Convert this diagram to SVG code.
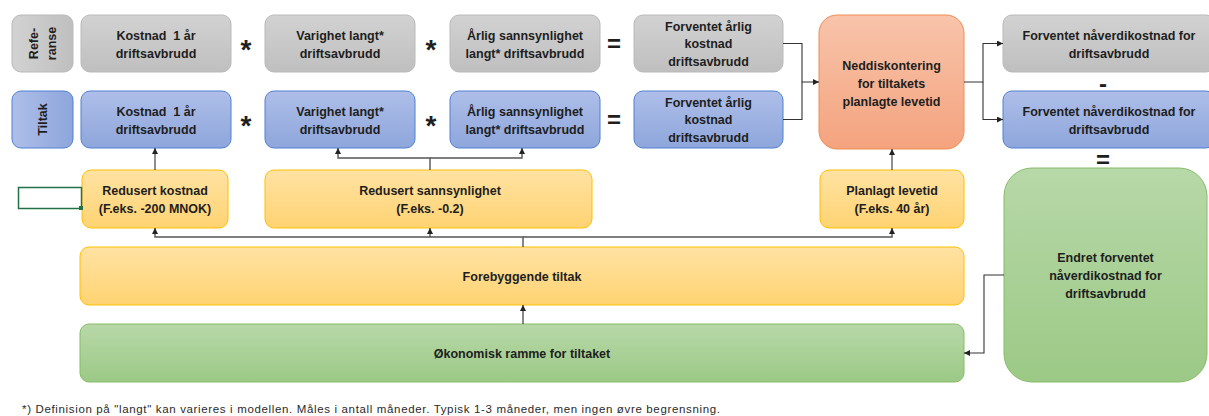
<svg xmlns="http://www.w3.org/2000/svg" width="1209" height="416" viewBox="0 0 1209 416">
<defs>
<linearGradient id="gGray" x1="0" y1="0" x2="0" y2="1"><stop offset="0" stop-color="#d2d2d2"/><stop offset="1" stop-color="#bfbfbf"/></linearGradient>
<linearGradient id="gGrayH" x1="0" y1="0" x2="1" y2="0"><stop offset="0" stop-color="#d2d2d2"/><stop offset="1" stop-color="#bfbfbf"/></linearGradient>
<linearGradient id="gBlue" x1="0" y1="0" x2="0" y2="1"><stop offset="0" stop-color="#aebee8"/><stop offset="1" stop-color="#8ea6dc"/></linearGradient>
<linearGradient id="gBlueH" x1="0" y1="0" x2="1" y2="0"><stop offset="0" stop-color="#aebee8"/><stop offset="1" stop-color="#8ea6dc"/></linearGradient>
<linearGradient id="gOrange" x1="0" y1="0" x2="0" y2="1"><stop offset="0" stop-color="#f8c4ab"/><stop offset="1" stop-color="#f4a37e"/></linearGradient>
<linearGradient id="gYellow" x1="0" y1="0" x2="0" y2="1"><stop offset="0" stop-color="#ffe2a3"/><stop offset="1" stop-color="#ffd372"/></linearGradient>
<linearGradient id="gGreen" x1="0" y1="0" x2="0" y2="1"><stop offset="0" stop-color="#b7d8a8"/><stop offset="1" stop-color="#9cc986"/></linearGradient>
<marker id="arr" viewBox="0 0 10 10" refX="10" refY="5" markerWidth="6" markerHeight="6" markerUnits="userSpaceOnUse" orient="auto"><path d="M0,0 L10,5 L0,10 z" fill="#222"/></marker>
</defs>
<style>
.gray{fill:url(#gGray);stroke:#b9b9b9;stroke-width:1}
.grayh{fill:url(#gGrayH);stroke:#b9b9b9;stroke-width:1}
.blue{fill:url(#gBlue);stroke:#4f80d2;stroke-width:1}
.blueh{fill:url(#gBlueH);stroke:#4f80d2;stroke-width:1}
.orange{fill:url(#gOrange);stroke:#f08c50;stroke-width:1}
.yellow{fill:url(#gYellow);stroke:#ffc000;stroke-width:1}
.green{fill:url(#gGreen);stroke:#86bc66;stroke-width:1}
.t{font-family:"Liberation Sans",Arial,sans-serif;font-weight:bold;font-size:12.5px;fill:#1e1e1e;text-anchor:middle;white-space:pre}
.op{font-family:"Liberation Sans",Arial,sans-serif;font-weight:bold;font-size:28px;fill:#1e1e1e;text-anchor:middle}
.eq{font-family:"Liberation Sans",Arial,sans-serif;font-weight:bold;font-size:24px;fill:#1e1e1e;text-anchor:middle}
.c{fill:none;stroke:#333;stroke-width:1.1}
.c2{fill:none;stroke:#555;stroke-width:1.4}
.note{font-family:"Liberation Sans",Arial,sans-serif;font-size:11.5px;fill:#2a2a2a}
</style>

<g id="ref-label"><rect class="grayh" x="12" y="15" width="61" height="57" rx="9"/>
<text class="t" transform="rotate(-90 42.5 43.5)"><tspan x="42.5" y="38.5">Refe-</tspan><tspan x="42.5" y="56.5">ranse</tspan></text></g>
<g id="tiltak-label"><rect class="blueh" x="12" y="91" width="61" height="57" rx="9"/>
<text class="t" transform="rotate(-90 42.5 119.5)" x="42.5" y="124">Tiltak</text></g>

<g id="ref-kostnad"><rect class="gray" x="81" y="15" width="150" height="57" rx="9"/>
<text class="t"><tspan x="156" y="39.5">Kostnad  1 år</tspan><tspan x="156" y="57.5">driftsavbrudd</tspan></text></g>
<g id="ref-varighet"><rect class="gray" x="265" y="15" width="150" height="57" rx="9"/>
<text class="t"><tspan x="340" y="39.5">Varighet langt*</tspan><tspan x="340" y="57.5">driftsavbrudd</tspan></text></g>
<g id="ref-arlig"><rect class="gray" x="450" y="15" width="150" height="57" rx="9"/>
<text class="t"><tspan x="525" y="39.5">Årlig sannsynlighet</tspan><tspan x="525" y="57.5">langt* driftsavbrudd</tspan></text></g>
<g id="ref-forventet"><rect class="gray" x="634" y="15" width="149" height="57" rx="9"/>
<text class="t"><tspan x="708.5" y="30.5">Forventet årlig</tspan><tspan x="708.5" y="48">kostnad</tspan><tspan x="708.5" y="65.5">driftsavbrudd</tspan></text></g>
<g id="ref-naverdi"><rect class="gray" x="1003" y="15" width="212" height="57" rx="9"/>
<text class="t"><tspan x="1109" y="39.5">Forventet nåverdikostnad for</tspan><tspan x="1109" y="57.5">driftsavbrudd</tspan></text></g>

<g id="tiltak-kostnad"><rect class="blue" x="81" y="91" width="150" height="57" rx="9"/>
<text class="t"><tspan x="156" y="115.5">Kostnad  1 år</tspan><tspan x="156" y="133.5">driftsavbrudd</tspan></text></g>
<g id="tiltak-varighet"><rect class="blue" x="265" y="91" width="150" height="57" rx="9"/>
<text class="t"><tspan x="340" y="115.5">Varighet langt*</tspan><tspan x="340" y="133.5">driftsavbrudd</tspan></text></g>
<g id="tiltak-arlig"><rect class="blue" x="450" y="91" width="150" height="57" rx="9"/>
<text class="t"><tspan x="525" y="115.5">Årlig sannsynlighet</tspan><tspan x="525" y="133.5">langt* driftsavbrudd</tspan></text></g>
<g id="tiltak-forventet"><rect class="blue" x="634" y="91" width="149" height="57" rx="9"/>
<text class="t"><tspan x="708.5" y="106.5">Forventet årlig</tspan><tspan x="708.5" y="124">kostnad</tspan><tspan x="708.5" y="141.5">driftsavbrudd</tspan></text></g>
<g id="tiltak-naverdi"><rect class="blue" x="1003" y="91" width="212" height="57" rx="9"/>
<text class="t"><tspan x="1109" y="115.5">Forventet nåverdikostnad for</tspan><tspan x="1109" y="133.5">driftsavbrudd</tspan></text></g>

<g id="neddiskontering"><rect class="orange" x="819" y="15" width="145" height="134" rx="18"/>
<text class="t"><tspan x="891.5" y="69.5">Neddiskontering</tspan><tspan x="891.5" y="87.5">for tiltakets</tspan><tspan x="891.5" y="105.5">planlagte levetid</tspan></text></g>

<g id="operators">
<text class="op" x="246" y="59">*</text><text class="op" x="431" y="59">*</text>
<text class="op" x="246" y="135">*</text><text class="op" x="431" y="135">*</text>
<text class="eq" x="614" y="52">=</text><text class="eq" x="614" y="128">=</text>
<text class="eq" x="1103" y="92">-</text><text class="eq" x="1103" y="168">=</text>
</g>

<g id="redusert-kostnad"><rect class="yellow" x="82" y="170" width="146" height="58" rx="9"/>
<text class="t"><tspan x="155" y="194.5">Redusert kostnad</tspan><tspan x="155" y="212.5">(F.eks. -200 MNOK)</tspan></text></g>
<g id="redusert-sannsynlighet"><rect class="yellow" x="265" y="170" width="327" height="58" rx="9"/>
<text class="t"><tspan x="430" y="194.5">Redusert sannsynlighet</tspan><tspan x="430" y="212.5">(F.eks. -0.2)</tspan></text></g>
<g id="planlagt-levetid"><rect class="yellow" x="820" y="170" width="144" height="58" rx="9"/>
<text class="t"><tspan x="892" y="194.5">Planlagt levetid</tspan><tspan x="892" y="212.5">(F.eks. 40 år)</tspan></text></g>
<g id="cell-selection"><rect x="18.5" y="187.5" width="63" height="21" fill="none" stroke="#217346" stroke-width="1.5"/><rect x="79" y="206" width="4" height="4" fill="#217346"/></g>

<g id="forebyggende"><rect class="yellow" x="80" y="247" width="884" height="58" rx="9"/>
<text class="t" x="522" y="280.5">Forebyggende tiltak</text></g>
<g id="okonomisk"><rect class="green" x="80" y="324" width="884" height="58" rx="9"/>
<text class="t" x="522" y="357.5">Økonomisk ramme for tiltaket</text></g>
<g id="endret"><rect class="green" x="1004" y="168" width="203" height="214" rx="28"/>
<text class="t"><tspan x="1105.5" y="261.5">Endret forventet</tspan><tspan x="1105.5" y="279.5">nåverdikostnad for</tspan><tspan x="1105.5" y="297.5">driftsavbrudd</tspan></text></g>

<g id="connectors">
<path class="c" d="M783,43.5 H802 V82 H819" marker-end="url(#arr)"/>
<path class="c" d="M783,119.5 H802 V82"/>
<path class="c" d="M964,82 H983 V43.5 H1003" marker-end="url(#arr)"/>
<path class="c" d="M983,82 V119.5 H1003" marker-end="url(#arr)"/>
<path class="c" d="M155,170 V148" marker-end="url(#arr)"/>
<path class="c2" d="M430,170 V158 H338 V148" marker-end="url(#arr)"/>
<path class="c2" d="M430,158 H522 V148" marker-end="url(#arr)"/>
<path class="c" d="M892,170 V149" marker-end="url(#arr)"/>
<path class="c2" d="M523,247 V237 H155 V228" marker-end="url(#arr)"/>
<path class="c2" d="M430,237 V228" marker-end="url(#arr)"/>
<path class="c2" d="M523,237 H892 V228" marker-end="url(#arr)"/>
<path class="c2" d="M523,324 V305" marker-end="url(#arr)"/>
<path class="c" d="M1004,275 H984 V353 H964" marker-end="url(#arr)"/>
</g>

<text class="note" x="22" y="413" textLength="698" lengthAdjust="spacing">*) Definision på "langt" kan varieres i modellen. Måles i antall måneder. Typisk 1-3 måneder, men ingen øvre begrensning.</text>
</svg>
